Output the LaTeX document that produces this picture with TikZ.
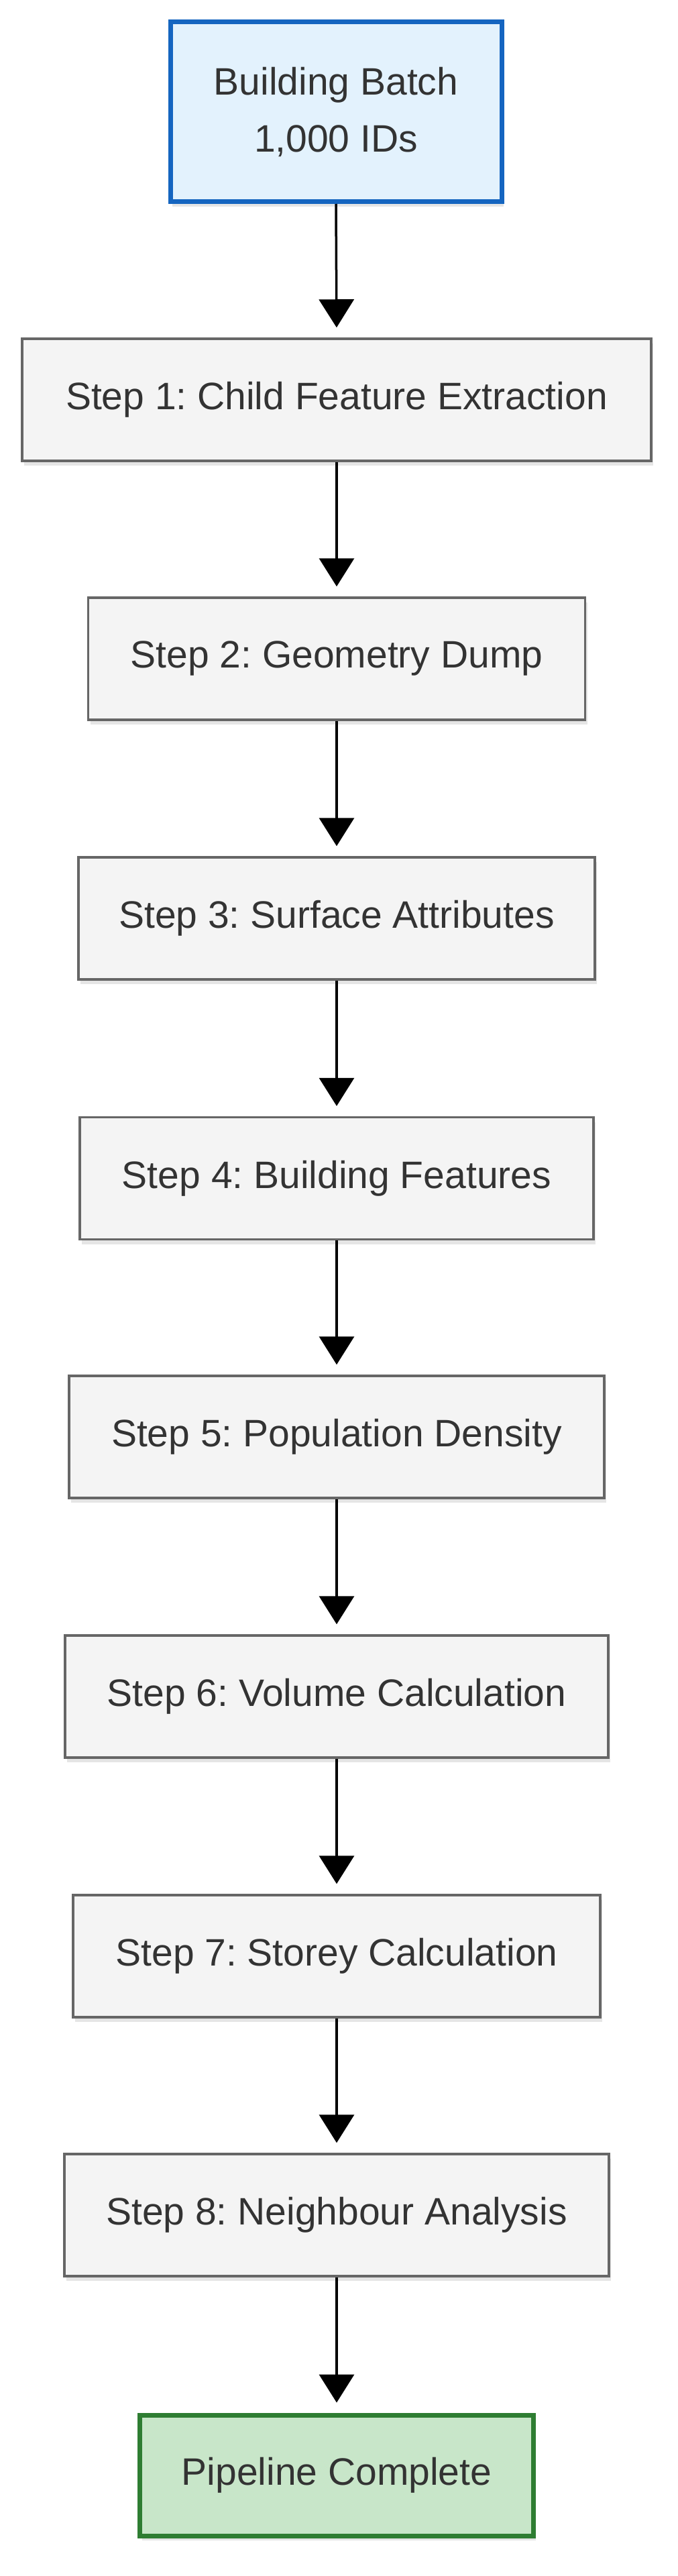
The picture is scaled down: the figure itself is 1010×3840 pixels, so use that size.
\documentclass[tikz,border=0pt]{standalone}
\usepackage{fontspec}
\setmainfont{Liberation Sans}
\usetikzlibrary{arrows.meta,shadows}
\frenchspacing
\definecolor{txt}{HTML}{333333}
\definecolor{startfill}{HTML}{E3F2FD}
\definecolor{startdraw}{HTML}{1565C0}
\definecolor{stepfill}{HTML}{F4F4F4}
\definecolor{stepdraw}{HTML}{666666}
\definecolor{endfill}{HTML}{C8E6C9}
\definecolor{enddraw}{HTML}{2E7D32}
\tikzset{
  base/.style={rectangle, inner sep=0pt, text=txt, align=center,
    font=\fontsize{57}{85}\selectfont\frenchspacing,
    drop shadow={shadow xshift=3pt, shadow yshift=-7pt, opacity=0.10, fill=black}},
  startbox/.style={base, fill=startfill, draw=startdraw, line width=7pt},
  stepbox/.style={base, fill=stepfill, draw=stepdraw, line width=3.5pt, minimum height=182pt},
  endbox/.style={base, fill=endfill, draw=enddraw, line width=7pt},
  flow/.style={draw=black, line width=3.5pt, shorten >=15pt,
    -{Triangle[width=52pt,length=42pt]}}
}
\begin{document}
\begin{tikzpicture}[x=1pt,y=1pt]
\useasboundingbox[fill=white] (0,0) rectangle (1010,-3840);
\node[startbox, minimum width=494pt, minimum height=268pt] (s0) at (501,-166.5) {Building Batch\\1,000 IDs};
\node[stepbox, minimum width=938pt] (s1) at (502,-596) {Step 1: Child Feature Extraction};
\node[stepbox, minimum width=741pt] (s2) at (502,-982) {Step 2: Geometry Dump};
\node[stepbox, minimum width=770pt] (s3) at (502,-1369) {Step 3: Surface Attributes};
\node[stepbox, minimum width=766pt] (s4) at (502,-1756.5) {Step 4: Building Features};
\node[stepbox, minimum width=798pt] (s5) at (502,-2142) {Step 5: Population Density};
\node[stepbox, minimum width=810pt] (s6) at (502,-2529) {Step 6: Volume Calculation};
\node[stepbox, minimum width=786pt] (s7) at (502,-2916) {Step 7: Storey Calculation};
\node[stepbox, minimum width=812pt] (s8) at (502,-3302) {Step 8: Neighbour Analysis};
\node[endbox, minimum width=587pt, minimum height=180pt] (s9) at (502,-3690) {Pipeline Complete};
\foreach \a/\b in {s0/s1,s1/s2,s2/s3,s3/s4,s4/s5,s5/s6,s6/s7,s7/s8,s8/s9}
  \draw[flow] (\a.south) -- (\b.north);
\end{tikzpicture}
\end{document}
